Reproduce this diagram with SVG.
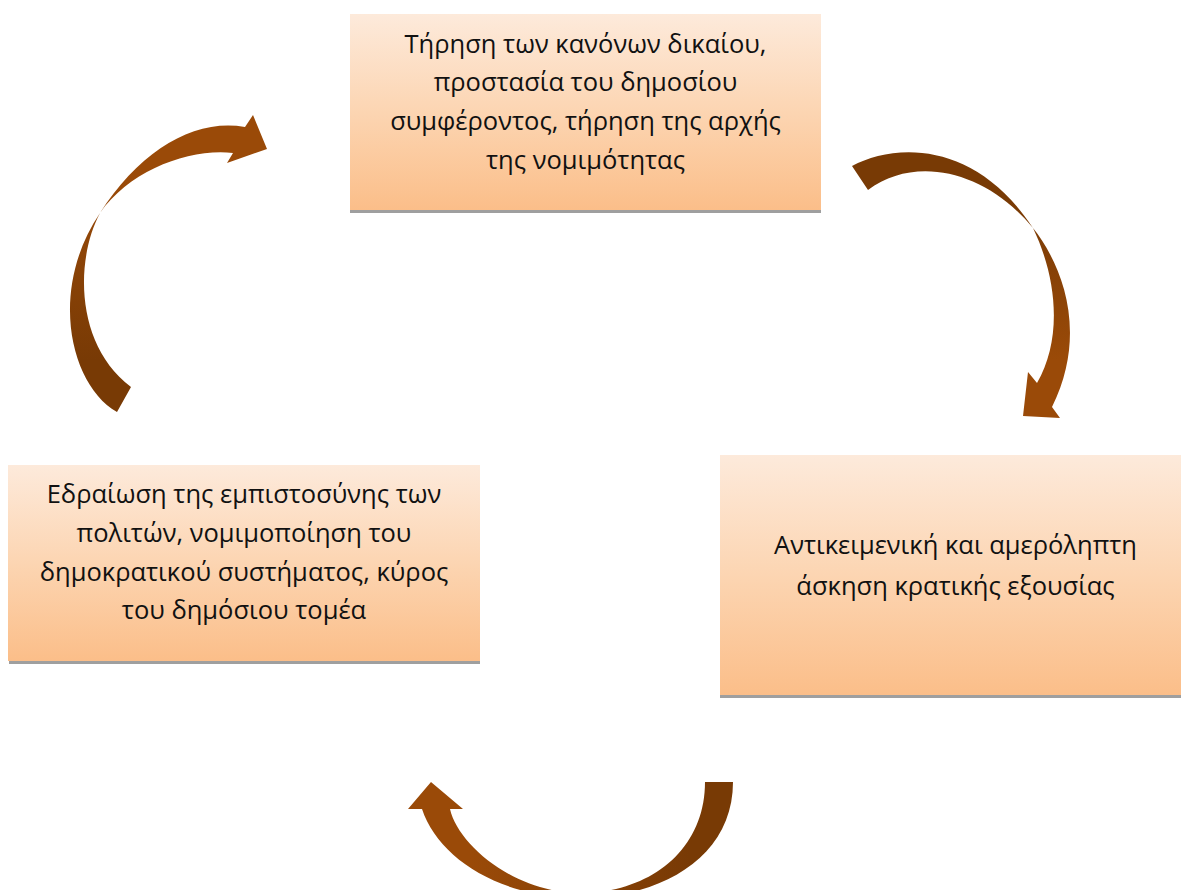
<svg xmlns="http://www.w3.org/2000/svg" width="1181" height="890" viewBox="0 0 1181 890">
<style>
.box{fill:url(#boxGrad);}
.shadow{fill:#9f9f9f;}
.lbl{font-family:"Open Sans","Noto Sans","DejaVu Sans",sans-serif;font-size:25.5px;fill:#111;text-anchor:middle;}
</style>
<defs>
<linearGradient id="boxGrad" x1="0" y1="0" x2="0" y2="1">
<stop offset="0" stop-color="#FDEADB"/>
<stop offset="0.5" stop-color="#FCD5B2"/>
<stop offset="1" stop-color="#FBBE89"/>
</linearGradient>
<linearGradient id="g1" gradientUnits="userSpaceOnUse" x1="0" y1="200" x2="0" y2="360">
<stop offset="0" stop-color="#783A05"/>
<stop offset="1" stop-color="#9A4A08"/>
</linearGradient>
<linearGradient id="g2" gradientUnits="userSpaceOnUse" x1="0" y1="360" x2="0" y2="180">
<stop offset="0" stop-color="#783A05"/>
<stop offset="1" stop-color="#9A4A08"/>
</linearGradient>
<linearGradient id="g3" gradientUnits="userSpaceOnUse" x1="690" y1="0" x2="470" y2="0">
<stop offset="0" stop-color="#783A05"/>
<stop offset="1" stop-color="#9A4A08"/>
</linearGradient>
</defs>
<rect width="1181" height="890" fill="#fff"/>
<g id="connectors">
<path id="arrow-top-right" fill="url(#g1)" d="M852,166 C895,143 975,140 1033,228 C1060,262 1090,330 1052,407 L1060,418 L1023,416 L1028,372 L1037,383 C1062,340 1058,280 1033,228 C985,170 915,155 868,190 Z"/>
<path id="arrow-bottom" fill="url(#g3)" d="M705,782 L733,782 C733,858 660,898 580,898 C500,898 438,858 422,809 L408,809 L431,782 L463,809 L450,809 C458,845 515,893 580,893 C650,893 705,850 705,782 Z"/>
<path id="arrow-left" fill="url(#g2)" d="M117,412 C70,385 48,290 100,213 C140,150 195,118 245,127 L253,115 L267,149 L227,163 L233,153 C190,148 130,170 100,213 C75,260 75,345 131,387 Z"/>
</g>
<g id="node-top">
<rect class="shadow" x="350" y="208" width="471" height="5"/>
<rect class="box" x="350" y="14" width="471" height="196"/>
<text class="lbl" x="585.5" y="52.5">Τήρηση των κανόνων δικαίου,</text>
<text class="lbl" x="585.5" y="91.2">προστασία του δημοσίου</text>
<text class="lbl" x="585.5" y="129.9">συμφέροντος, τήρηση της αρχής</text>
<text class="lbl" x="585.5" y="168.5">της νομιμότητας</text>
</g>
<g id="node-right">
<rect class="shadow" x="720" y="693" width="471" height="5"/>
<rect class="box" x="720" y="455" width="471" height="240"/>
<text class="lbl" x="955.5" y="553.5">Αντικειμενική και αμερόληπτη</text>
<text class="lbl" x="955.5" y="594.5">άσκηση κρατικής εξουσίας</text>
</g>
<g id="node-left">
<rect class="shadow" x="9" y="659" width="471" height="5"/>
<rect class="box" x="8" y="465" width="472" height="196"/>
<text class="lbl" x="244" y="503.3">Εδραίωση της εμπιστοσύνης των</text>
<text class="lbl" x="244" y="541.8">πολιτών, νομιμοποίηση του</text>
<text class="lbl" x="244" y="580.5">δημοκρατικού συστήματος, κύρος</text>
<text class="lbl" x="244" y="618.5">του δημόσιου τομέα</text>
</g>
</svg>
